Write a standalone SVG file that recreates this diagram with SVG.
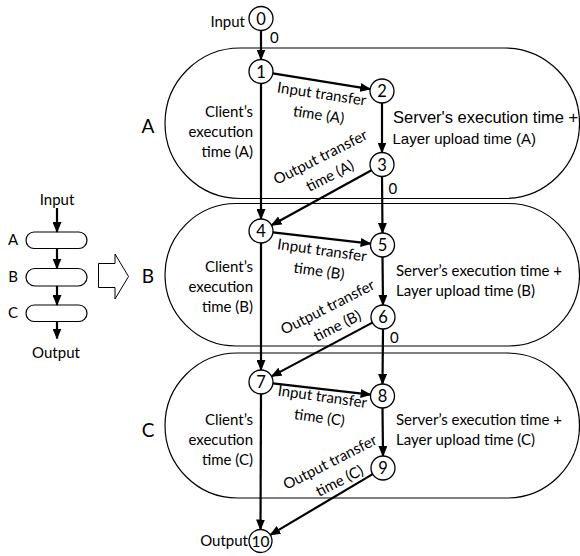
<svg xmlns="http://www.w3.org/2000/svg" width="580" height="556" viewBox="0 0 580 556">
  <style>
    .t { font-family: Lato, "Noto Sans", "Liberation Sans", sans-serif; font-size: 15px; fill: #000; }
    .arial { font-family: "Liberation Sans", Arial, sans-serif; fill: #000; }
    .big { font-size: 19px; }
    .stage { fill: none; stroke: #000; stroke-width: 1.2; }
    .pill { fill: #fff; stroke: #000; stroke-width: 1.2; }
    .node circle { fill: #fff; stroke: #000; stroke-width: 1.3; }
    .node text { text-anchor: middle; font-size: 16.5px; }
    .edge { stroke: #000; stroke-width: 2.2; fill: none; marker-end: url(#head); }
    .mid { text-anchor: middle; }
    .end { text-anchor: end; }
  </style>
  <defs>
    <marker id="head" markerUnits="userSpaceOnUse" markerWidth="11" markerHeight="9" refX="10" refY="4.5" orient="auto">
      <path d="M0,0 L11,4.5 L0,9 z" fill="#000"/>
    </marker>
  </defs>

  <rect width="580" height="556" fill="#fff"/>

  <!-- overview: three stacked layers -->
  <g id="overview">
    <text class="t mid" x="57" y="205">Input</text>
    <rect class="pill" x="26" y="232" width="61" height="16.5" rx="8.25"/>
    <rect class="pill" x="26" y="268.5" width="61" height="17.5" rx="8.75"/>
    <rect class="pill" x="26" y="305" width="61" height="16.5" rx="8.25"/>
    <text class="t mid" x="13" y="245">A</text>
    <text class="t mid" x="13" y="282">B</text>
    <text class="t mid" x="13" y="318">C</text>
    <line class="edge" x1="57" y1="208" x2="57" y2="232"/>
    <line class="edge" x1="57" y1="248.5" x2="57" y2="268.5"/>
    <line class="edge" x1="57" y1="286" x2="57" y2="305"/>
    <line class="edge" x1="57" y1="321.5" x2="57" y2="338.5"/>
    <text class="t mid" x="56" y="358">Output</text>
    <polygon points="98.5,263.5 115,263.5 115,254 128.5,276.5 115,299 115,287.5 98.5,287.5" fill="#fff" stroke="#000" stroke-width="1"/>
  </g>

  <!-- layer stages -->
  <g id="stage-A">
    <rect class="stage" x="165" y="48" width="414.5" height="150.5" rx="75.25"/>
    <text class="t big mid" x="148" y="133">A</text>
  </g>
  <g id="stage-B">
    <rect class="stage" x="165" y="203.5" width="414.5" height="142.5" rx="71.25"/>
    <text class="t big mid" x="148" y="283">B</text>
  </g>
  <g id="stage-C">
    <rect class="stage" x="165" y="353" width="414.5" height="145" rx="72.5"/>
    <text class="t big mid" x="148" y="437">C</text>
  </g>

  <!-- connectors -->
  <g id="connectors">
    <line class="edge" x1="261" y1="30.5" x2="261" y2="59.5"/>
    <line class="edge" x1="261" y1="83.5" x2="261" y2="219"/>
    <line class="edge" x1="261" y1="243" x2="261" y2="370"/>
    <line class="edge" x1="261" y1="394" x2="260.5" y2="529.5"/>
    <line class="edge" x1="382" y1="103" x2="382" y2="152.5"/>
    <line class="edge" x1="382" y1="176.5" x2="382.5" y2="233"/>
    <line class="edge" x1="382.5" y1="257" x2="383" y2="305"/>
    <line class="edge" x1="383" y1="329" x2="382.5" y2="384"/>
    <line class="edge" x1="382.5" y1="408" x2="383" y2="456"/>
    <line class="edge" x1="272.8" y1="73.4" x2="370.2" y2="89.1"/>
    <line class="edge" x1="272.9" y1="232.4" x2="370.6" y2="243.6"/>
    <line class="edge" x1="272.9" y1="383.4" x2="370.6" y2="394.6"/>
    <line class="edge" x1="371.5" y1="170.3" x2="271.5" y2="225.2"/>
    <line class="edge" x1="372.4" y1="322.6" x2="271.6" y2="376.4"/>
    <line class="edge" x1="372.7" y1="474.1" x2="270.3" y2="534.9"/>
  </g>

  <!-- nodes -->
  <g id="n0" class="node"><circle cx="261" cy="18.5" r="12"/><text class="t" x="261" y="24.5">0</text></g>
  <g id="n1" class="node"><circle cx="261" cy="71.5" r="12"/><text class="t" x="261" y="77.5">1</text></g>
  <g id="n2" class="node"><circle cx="382" cy="91" r="12"/><text class="t" x="382" y="97">2</text></g>
  <g id="n3" class="node"><circle cx="382" cy="164.5" r="12"/><text class="t" x="382" y="170.5">3</text></g>
  <g id="n4" class="node"><circle cx="261" cy="231" r="12"/><text class="t" x="261" y="237">4</text></g>
  <g id="n5" class="node"><circle cx="382.5" cy="245" r="12"/><text class="t" x="382.5" y="251">5</text></g>
  <g id="n6" class="node"><circle cx="383" cy="317" r="12"/><text class="t" x="383" y="323">6</text></g>
  <g id="n7" class="node"><circle cx="261" cy="382" r="12"/><text class="t" x="261" y="388">7</text></g>
  <g id="n8" class="node"><circle cx="382.5" cy="396" r="12"/><text class="t" x="382.5" y="402">8</text></g>
  <g id="n9" class="node"><circle cx="383" cy="468" r="12"/><text class="t" x="383" y="474">9</text></g>
  <g id="n10" class="node"><circle cx="260.5" cy="541" r="11.5"/><text class="t" x="260.5" y="547" style="font-size:15.5px">10</text></g>

  <!-- labels -->
  <g id="labels">
    <text class="t end" x="245" y="27">Input</text>
    <text class="t end" x="248" y="546">Output</text>
    <text class="t" x="270" y="43">0</text>
    <text class="t" x="388.5" y="194">0</text>
    <text class="t" x="390" y="343">0</text>

    <!-- stage A -->
    <text class="t end" x="253" y="117">Client’s</text>
    <text class="t end" x="253" y="137">execution</text>
    <text class="t end" x="253" y="157">time (A)</text>
    <text class="arial" font-size="16.5" x="393" y="123">Server's execution time +</text>
    <text class="arial" font-size="15" x="392.5" y="144">Layer upload time (A)</text>
    <g transform="translate(321,99) rotate(8.5)">
      <text class="t mid" x="0" y="0">Input transfer</text>
      <text class="t mid" x="0" y="21">time (A)</text>
    </g>
    <g transform="translate(322.7,161.7) rotate(-27)">
      <text class="t mid" x="0" y="0">Output transfer</text>
      <text class="t mid" x="0" y="21">time (A)</text>
    </g>

    <!-- stage B -->
    <text class="t end" x="253" y="272">Client’s</text>
    <text class="t end" x="253" y="292">execution</text>
    <text class="t end" x="253" y="312">time (B)</text>
    <text class="t" x="396" y="276">Server’s execution time +</text>
    <text class="t" x="396" y="296">Layer upload time (B)</text>
    <g transform="translate(321.3,255.3) rotate(8)">
      <text class="t mid" x="0" y="0">Input transfer</text>
      <text class="t mid" x="0" y="21">time (B)</text>
    </g>
    <g transform="translate(330,311.7) rotate(-27)">
      <text class="t mid" x="0" y="0">Output transfer</text>
      <text class="t mid" x="0" y="21">time (B)</text>
    </g>

    <!-- stage C -->
    <text class="t end" x="253" y="425">Client’s</text>
    <text class="t end" x="253" y="445">execution</text>
    <text class="t end" x="253" y="465">time (C)</text>
    <text class="t" x="396" y="425">Server’s execution time +</text>
    <text class="t" x="396" y="445">Layer upload time (C)</text>
    <g transform="translate(321.7,401.7) rotate(8)">
      <text class="t mid" x="0" y="0">Input transfer</text>
      <text class="t mid" x="0" y="21">time (C)</text>
    </g>
    <g transform="translate(332.3,466.7) rotate(-27)">
      <text class="t mid" x="0" y="0">Output transfer</text>
      <text class="t mid" x="0" y="21">time (C)</text>
    </g>
  </g>
</svg>
